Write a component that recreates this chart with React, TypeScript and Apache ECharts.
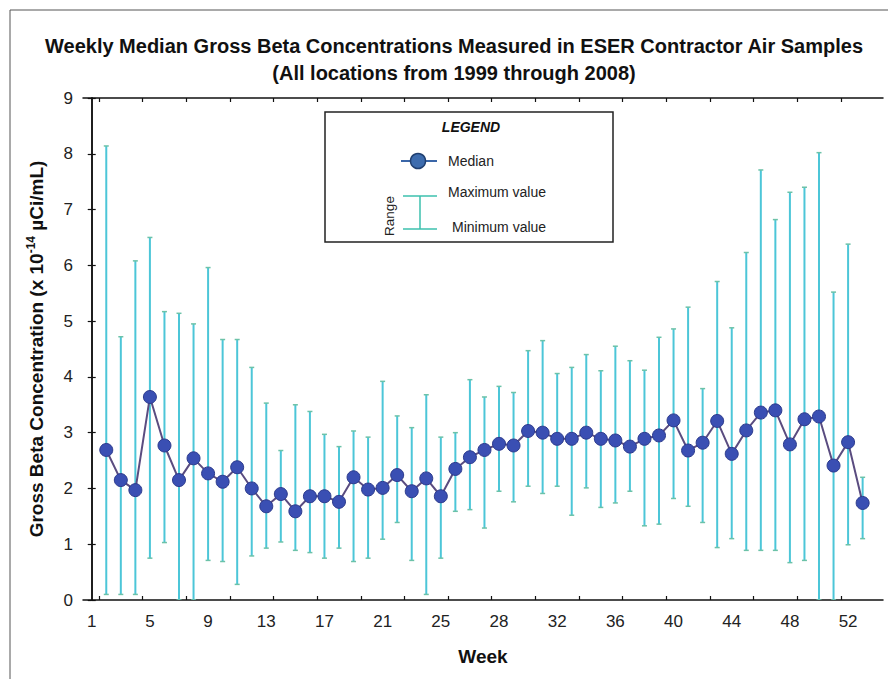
import React, { useEffect, useRef } from "react";
import * as echarts from "echarts";

const WEEKS = [
  1, 2, 3, 4, 5, 6, 7, 8, 9, 10, 11, 12, 13, 14, 15, 16, 17, 18, 19, 20, 21, 22, 23, 24, 25, 26,
  27, 28, 29, 30, 31, 32, 33, 34, 35, 36, 37, 38, 39, 40, 41, 42, 43, 44, 45, 46, 47, 48, 49, 50,
  51, 52, 53,
];

const MEDIAN = [
  2.69, 2.15, 1.97, 3.64, 2.77, 2.15, 2.54, 2.27, 2.12, 2.38, 2.0, 1.68, 1.9,
  1.59, 1.86, 1.86, 1.76, 2.2, 1.98, 2.01, 2.24, 1.95, 2.18, 1.86, 2.35, 2.56,
  2.69, 2.8, 2.77, 3.03, 3.0, 2.89, 2.89, 3.0, 2.89, 2.86, 2.75, 2.89, 2.95, 3.22,
  2.68, 2.82, 3.21, 2.62, 3.04, 3.36, 3.4, 2.79, 3.24, 3.29, 2.41, 2.83, 1.74,
];

const MAXIMUM = [
  8.14, 4.72, 6.08, 6.5, 5.17, 5.14, 4.95, 5.96, 4.67, 4.67, 4.17, 3.53, 2.68,
  3.5, 3.38, 2.97, 2.75, 3.03, 2.92, 3.92, 3.3, 3.09, 3.68, 2.92, 3.0, 3.95,
  3.64, 3.83, 3.72, 4.47, 4.65, 4.06, 4.17, 4.4, 4.11, 4.55, 4.29, 4.12, 4.71, 4.86,
  5.25, 3.79, 5.71, 4.88, 6.23, 7.71, 6.82, 7.31, 7.4, 8.02, 5.52, 6.38, 2.2,
];

const MINIMUM = [
  0.1, 0.1, 0.1, 0.75, 1.03, 0, 0, 0.71, 0.69, 0.28, 0.79, 0.93, 1.04,
  0.89, 0.85, 0.75, 0.93, 0.69, 0.75, 1.09, 1.39, 0.71, 0.1, 0.75, 1.59, 1.62,
  1.29, 1.95, 1.76, 2.04, 1.91, 2.04, 1.52, 2.01, 1.66, 1.74, 1.95, 1.33, 1.36, 1.82,
  1.68, 1.39, 0.94, 1.1, 0.89, 0.89, 0.89, 0.67, 0.71, 0, 0, 0.99, 1.1,
];

const WEEK_LABELS = ["1", "5", "9", "13", "17", "21", "25", "28", "32", "36", "40", "44", "48", "52"];

const TITLE = "Weekly Median Gross Beta Concentrations Measured in ESER Contractor Air Samples";
const SUBTITLE = "(All locations from 1999 through 2008)";

const FONT = "'Liberation Sans', Arial, sans-serif";

export default function App() {
  const ref = useRef<HTMLDivElement>(null);

  useEffect(() => {
    const chart = echarts.init(ref.current!, null, { renderer: "svg" });
    const rangeData = WEEKS.map((w, i) => [w, MINIMUM[i], MAXIMUM[i]]);
    const medianData = WEEKS.map((w, i) => [w, MEDIAN[i]]);
    const labelPos = WEEK_LABELS.map((_, i) => i * 4);
    const tickPos = Array.from({ length: 18 }, (_, i) => 0.5 + 3 * i);

    const xBase = {
      type: "value",
      min: -0.6,
      max: 54.4,
      splitLine: { show: false },
      axisLine: { show: true, onZero: false, lineStyle: { color: "#111", width: 1.5 } },
      axisTick: { show: true, inside: true, length: 4, customValues: tickPos, lineStyle: { color: "#111", width: 1.2 } },
    };
    const yBase = {
      type: "value",
      min: 0,
      max: 9,
      interval: 1,
      splitLine: { show: false },
      axisLine: { show: true, lineStyle: { color: "#111", width: 1.5 } },
      axisTick: { show: true, inside: true, length: 4, lineStyle: { color: "#111", width: 1.2 } },
    };

    chart.setOption({
      animation: false,
      backgroundColor: "#ffffff",
      textStyle: { fontFamily: FONT },
      title: {
        text: TITLE + "\n" + SUBTITLE,
        left: 449,
        top: 27,
        textAlign: "center",
        textStyle: { fontFamily: FONT, fontSize: 20, fontWeight: "bold", color: "#111", lineHeight: 27 },
      },
      grid: { left: 83, right: 5, top: 98, bottom: 79, containLabel: false },
      xAxis: [
        {
          ...xBase,
          position: "bottom",
          name: "Week",
          nameLocation: "middle",
          nameGap: 47,
          nameTextStyle: { fontFamily: FONT, fontSize: 19, fontWeight: "bold", color: "#111" },
          axisLabel: {
            show: true,
            customValues: labelPos,
            formatter: (v: number) => WEEK_LABELS[Math.round(v / 4)] ?? "",
            fontFamily: FONT,
            fontSize: 17,
            color: "#222",
            margin: 13,
          },
        },
        {
          ...xBase,
          position: "top",
          axisLabel: { show: false },
        },
      ],
      yAxis: [
        {
          ...yBase,
          position: "left",
          name: "Gross Beta Concentration (x 10{sup|-14} µCi/mL)",
          nameLocation: "middle",
          nameRotate: 90,
          nameGap: 36,
          nameTextStyle: {
            fontFamily: FONT,
            fontSize: 19,
            fontWeight: "bold",
            color: "#111",
            rich: {
              sup: { fontFamily: FONT, fontSize: 12, fontWeight: "bold", color: "#111", padding: [0, 0, 10, 0] },
            },
          },
          axisLabel: { fontFamily: FONT, fontSize: 17, color: "#222", margin: 10 },
        },
        {
          ...yBase,
          position: "right",
          axisLabel: { show: false },
        },
      ],
      series: [
        {
          name: "Range",
          type: "custom",
          xAxisIndex: 0,
          yAxisIndex: 0,
          clip: true,
          z: 2,
          data: rangeData,
          renderItem: (params: any, api: any) => {
            const x = api.value(0);
            const lo = api.coord([x, api.value(1)]);
            const hi = api.coord([x, api.value(2)]);
            const cap = 2.5;
            return {
              type: "group",
              children: [
                {
                  type: "line",
                  shape: { x1: hi[0], y1: hi[1], x2: lo[0], y2: lo[1] },
                  style: { stroke: "#4cc6d8", lineWidth: 2 },
                },
                {
                  type: "line",
                  shape: { x1: hi[0] - cap, y1: hi[1], x2: hi[0] + cap, y2: hi[1] },
                  style: { stroke: "#6cc2a8", lineWidth: 1.5 },
                },
                {
                  type: "line",
                  shape: { x1: lo[0] - cap, y1: lo[1], x2: lo[0] + cap, y2: lo[1] },
                  style: { stroke: "#6cc2a8", lineWidth: 1.5 },
                },
              ],
            };
          },
        },
        {
          name: "Median",
          type: "line",
          xAxisIndex: 0,
          yAxisIndex: 0,
          z: 5,
          data: medianData,
          symbol: "circle",
          symbolSize: 13,
          lineStyle: { color: "#5a4c80", width: 2 },
          itemStyle: { color: "#3a4fb3", borderColor: "#2c3a8c", borderWidth: 1 },
        },
      ],
      graphic: [
        {
          type: "rect",
          z: 0,
          silent: true,
          shape: { x: 10, y: 10, width: 900, height: 700 },
          style: { fill: "none", stroke: "#555", lineWidth: 1 },
        },
        {
          type: "group",
          z: 100,
          children: [
            {
              type: "rect",
              shape: { x: 325, y: 112, width: 288, height: 130 },
              style: { fill: "#ffffff", stroke: "#222", lineWidth: 1.5 },
            },
            {
              type: "text",
              x: 471,
              y: 127,
              style: {
                text: "LEGEND",
                font: "italic bold 14px " + FONT,
                fill: "#111",
                textAlign: "center",
                textVerticalAlign: "middle",
              },
            },
            {
              type: "line",
              shape: { x1: 401, y1: 161, x2: 437, y2: 161 },
              style: { stroke: "#3a66a8", lineWidth: 2 },
            },
            {
              type: "circle",
              shape: { cx: 418, cy: 161, r: 7.5 },
              style: { fill: "#3d6cae", stroke: "#1f3f70", lineWidth: 1.5 },
            },
            {
              type: "text",
              x: 448,
              y: 161,
              style: { text: "Median", font: "14px " + FONT, fill: "#222", textVerticalAlign: "middle" },
            },
            {
              type: "line",
              shape: { x1: 403, y1: 196, x2: 437, y2: 196 },
              style: { stroke: "#3cc0ae", lineWidth: 1.5 },
            },
            {
              type: "line",
              shape: { x1: 420, y1: 196, x2: 420, y2: 229 },
              style: { stroke: "#3cc0ae", lineWidth: 1.5 },
            },
            {
              type: "line",
              shape: { x1: 403, y1: 229, x2: 437, y2: 229 },
              style: { stroke: "#3cc0ae", lineWidth: 1.5 },
            },
            {
              type: "text",
              x: 389,
              y: 216,
              rotation: Math.PI / 2,
              style: {
                text: "Range",
                font: "13.5px " + FONT,
                fill: "#222",
                textAlign: "center",
                textVerticalAlign: "middle",
              },
            },
            {
              type: "text",
              x: 448,
              y: 192,
              style: { text: "Maximum value", font: "14px " + FONT, fill: "#222", textVerticalAlign: "middle" },
            },
            {
              type: "text",
              x: 452,
              y: 227,
              style: { text: "Minimum value", font: "14px " + FONT, fill: "#222", textVerticalAlign: "middle" },
            },
          ],
        },
      ],
    });

    return () => chart.dispose();
  }, []);

  return (
    <div
      ref={ref}
      style={{ position: "absolute", left: 0, top: 0, width: 888, height: 679, background: "#fff" }}
    />
  );
}
